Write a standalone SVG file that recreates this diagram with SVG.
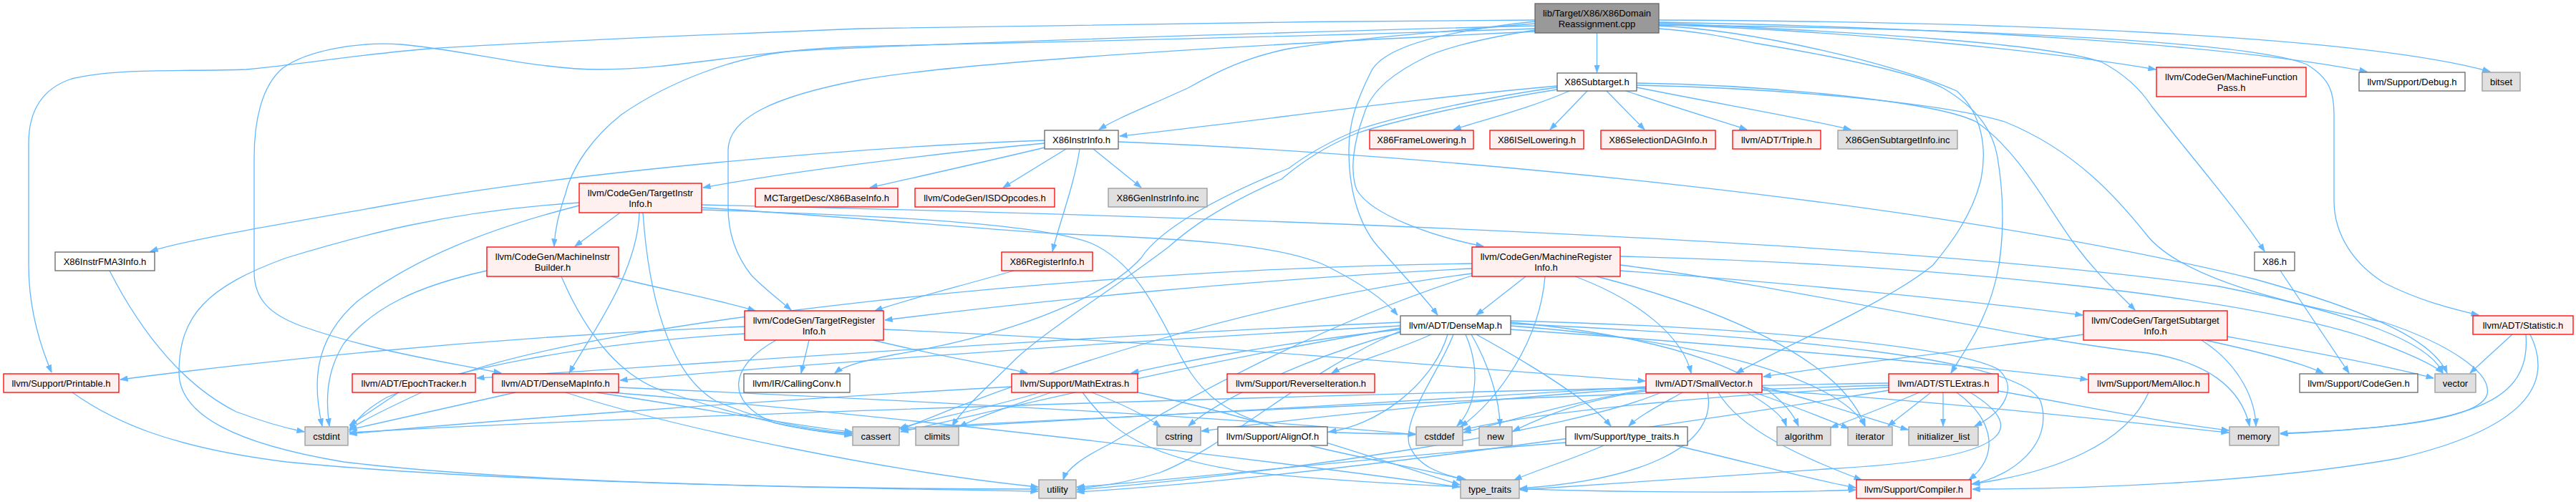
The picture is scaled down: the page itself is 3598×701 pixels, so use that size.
<svg xmlns="http://www.w3.org/2000/svg" width="3598" height="701" viewBox="0 0 3598 701">
<defs>
<marker id="a" markerUnits="userSpaceOnUse" markerWidth="11" markerHeight="8" refX="10.5" refY="4" orient="auto">
<path d="M0,0 L11,4 L0,8 z" fill="#63b8ff" stroke="#63b8ff" stroke-width="0.5"/>
</marker>
<style>
.e path{fill:none;stroke:#63b8ff;stroke-width:1.3;marker-end:url(#a)}
.node rect{stroke-width:1.3}
.r rect{fill:#fff0f0;stroke:#ff0000}
.w rect{fill:#ffffff;stroke:#666666}
.g rect{fill:#e0e0e0;stroke:#999999}
.root rect{fill:#999999;stroke:#666666}
text{font-family:"Liberation Sans",Arial,Helvetica,sans-serif;font-size:13px;fill:#000000;text-anchor:middle}
</style>
</defs>
<rect x="0" y="0" width="3598" height="701" fill="#ffffff"/>
<g id="edges" class="e">
<path d="M2144,28 C1800,30 1300,36 1200,40 C1000,48 750,58 600,68 C500,76 420,90 344,97 C250,100 160,95 100,110 C55,125 40,160 40,200 L40,370 C40,430 55,480 72,520"/>
<path d="M2144,36 C1800,45 1300,60 1100,72 C1030,80 940,110 868,160 C830,190 800,230 790,270 C780,300 775,320 774,344"/>
<path d="M2144,40 C1700,55 1300,62 1200,65 C1050,70 950,97 837,97 C750,97 650,70 560,62 C500,58 430,70 395,95 C365,120 355,170 355,220 L355,380 C355,420 380,440 420,455 C520,490 620,505 700,521"/>
<path d="M2144,44 C1800,60 1350,85 1200,112 C1080,135 1017,165 1017,210 L1017,290 C1017,330 1030,360 1050,385 C1070,405 1090,420 1105,433"/>
<path d="M2144,33 C2000,45 1880,55 1800,68 C1740,80 1700,100 1659,123 C1600,150 1560,165 1535,181"/>
<path d="M2230.5,46 L2230.5,101"/>
<path d="M2144,30 C2000,45 1930,70 1915,100 C1895,140 1884,170 1884,210 C1884,270 1900,320 1930,350 C1960,385 1990,415 2008,440"/>
<path d="M2144,42 C2060,55 2010,70 1991,80 C1950,100 1915,125 1905,160 C1890,200 1885,240 1895,265 C1915,300 2000,330 2072,344"/>
<path d="M2317,40 C2380,45 2400,50 2450,60 C2600,85 2680,105 2714,123 C2760,150 2783,180 2790,220 C2800,280 2798,330 2792,370 C2780,440 2750,480 2725,521"/>
<path d="M2317,36 C2450,42 2650,90 2733,127 C2770,160 2775,210 2767,250 C2755,300 2725,340 2700,370 C2640,420 2500,480 2425,521"/>
<path d="M2317,34 C2600,45 2850,70 3011,97"/>
<path d="M2317,31 C2700,38 3100,60 3306,100"/>
<path d="M2317,28 C2800,30 3300,50 3478,100"/>
<path d="M2317,32 C2600,45 2860,60 2936,87 C2970,105 2990,125 3005,148 C3070,230 3130,300 3163,351"/>
<path d="M2317,35 C2800,40 3150,60 3222,90 C3255,110 3260,130 3260,160 L3260,280 C3260,330 3290,370 3330,395 C3380,420 3420,430 3462,440"/>
<path d="M2192,127 C2140,150 2070,168 2030,181"/>
<path d="M2217,127 L2165,181"/>
<path d="M2244,127 L2297,181"/>
<path d="M2271,127 C2340,150 2400,168 2440,181"/>
<path d="M2286,122 C2400,145 2520,165 2585,181"/>
<path d="M2175,120 C1950,140 1750,170 1564,190"/>
<path d="M2286,116 C2450,118 2700,140 2760,170 C2820,210 2860,290 2897,340 C2930,385 2960,410 2982,433"/>
<path d="M2175,122 C2080,135 1960,160 1900,180 C1850,200 1820,220 1800,235 C1700,275 1620,320 1594,360 C1540,420 1400,470 1250,495 C1210,503 1180,510 1166,521"/>
<path d="M2175,125 C2080,140 1960,165 1895,186 C1850,205 1820,225 1790,250 C1700,290 1660,320 1632,345 C1560,400 1470,455 1420,500 C1380,540 1345,570 1330,595"/>
<path d="M2286,119 C2450,122 2700,140 2800,170 C2900,210 2960,280 3000,330 C3050,390 3200,425 3330,450 C3420,480 3480,520 3474,550 C3465,590 3300,600 3185,606"/>
<path d="M1459,206 C1380,225 1290,245 1215,262"/>
<path d="M1489,208 L1401,262"/>
<path d="M1527,208 L1594,262"/>
<path d="M1508,208 C1500,260 1480,310 1470,351"/>
<path d="M1459,200 C1300,215 1100,240 982,262"/>
<path d="M1459,196 C1200,205 800,240 550,285 C380,315 260,335 210,351"/>
<path d="M1562,198 C2000,215 2700,280 3150,390 C3330,440 3400,480 3418,521"/>
<path d="M866,297 L803,344"/>
<path d="M980,290 C1150,300 1350,318 1470,326 C1650,333 1780,340 1850,370 C1900,395 1935,420 1952,440"/>
<path d="M893,297 C890,380 830,460 795,521"/>
<path d="M898,297 C905,400 930,520 1000,560 C1070,590 1130,600 1190,605"/>
<path d="M980,293 C1200,300 1450,310 1525,340 C1580,365 1610,420 1640,480 C1670,540 1700,580 1800,600 C1880,606 1940,606 1977,606"/>
<path d="M809,287 C680,320 580,360 500,420 C430,480 440,550 450,595"/>
<path d="M809,283 C620,295 500,330 400,360 C290,400 250,440 250,520 C250,580 330,620 480,645 C750,678 1250,683 1450,683"/>
<path d="M980,286 C1600,300 2600,330 3100,400 C3300,440 3395,480 3412,521"/>
<path d="M1416,378 C1340,400 1260,420 1222,434"/>
<path d="M854,386 C930,405 1010,420 1055,434"/>
<path d="M784,386 C820,470 870,530 933,548 C1030,580 1120,602 1190,608"/>
<path d="M680,378 C580,400 520,430 480,480 C455,520 455,560 460,595"/>
<path d="M2056,375 C1750,390 1450,420 1236,447"/>
<path d="M2131,386 L2062,440"/>
<path d="M2200,386 C2290,420 2350,470 2362,521"/>
<path d="M2263,378 C2500,395 2750,420 2909,440"/>
<path d="M2158,386 C2150,480 2090,560 2040,596"/>
<path d="M2056,382 C1750,420 1450,520 1258,600"/>
<path d="M2056,368 C1500,375 850,450 650,520 C550,565 500,590 488,600"/>
<path d="M2230,386 C2400,430 2570,500 2605,595"/>
<path d="M2263,370 C2500,400 2800,470 3000,493 C3080,505 3130,540 3142,595"/>
<path d="M2056,385 C1850,450 1650,560 1550,620 C1510,640 1490,655 1485,670"/>
<path d="M2263,358 C2750,370 3150,420 3300,470 C3370,495 3400,510 3412,521"/>
<path d="M3185,378 L3281,521"/>
<path d="M1040,456 C700,470 400,500 168,530"/>
<path d="M1130,475 L1119,521"/>
<path d="M1220,475 C1300,495 1390,510 1435,521"/>
<path d="M1234,460 C1700,480 2100,520 2298,532"/>
<path d="M1084,475 C1020,510 1010,560 1080,590 C1120,600 1160,604 1190,606"/>
<path d="M1040,466 C800,480 620,520 540,555 C505,575 495,590 488,603"/>
<path d="M1956,450 C1500,470 950,510 666,528"/>
<path d="M1956,455 C1500,480 1050,515 866,531"/>
<path d="M1956,460 C1780,480 1650,505 1580,521"/>
<path d="M1999,467 C1950,490 1890,505 1860,521"/>
<path d="M2022,467 C2000,540 1920,595 1856,603"/>
<path d="M2047,467 C2070,520 2060,570 2035,595"/>
<path d="M2055,467 C2080,510 2095,560 2095,595"/>
<path d="M2062,467 C2140,510 2220,560 2250,595"/>
<path d="M2030,467 C2010,520 1960,580 1968,620 C1978,650 2010,662 2048,670"/>
<path d="M1956,462 C1820,520 1720,620 1620,660 C1570,675 1530,680 1505,682"/>
<path d="M1956,458 C1700,500 1450,560 1258,603"/>
<path d="M1956,464 C1820,500 1700,560 1660,595"/>
<path d="M2110,450 C2330,470 2480,520 2512,595"/>
<path d="M2110,455 C2380,475 2570,530 2605,595"/>
<path d="M2110,448 C2400,455 2720,480 2790,515 C2820,540 2800,575 2758,595"/>
<path d="M2110,452 C2500,470 2820,500 2850,560 C2870,620 2810,665 2755,676"/>
<path d="M2110,460 C2400,480 2750,510 2916,530"/>
<path d="M2910,467 C2750,490 2560,510 2463,526"/>
<path d="M3080,475 C3150,490 3210,505 3245,521"/>
<path d="M3111,470 C3220,490 3330,510 3399,528"/>
<path d="M3075,475 C3130,510 3150,560 3151,595"/>
<path d="M3509,467 L3450,521"/>
<path d="M3528,467 C3535,560 3460,595 3185,605"/>
<path d="M3534,467 C3570,540 3520,600 3350,640 C3150,675 2900,683 2755,683"/>
<path d="M101,548 C160,590 240,625 400,645 C700,675 1200,682 1450,686"/>
<path d="M557,548 L488,594"/>
<path d="M720,548 C620,570 530,590 488,600"/>
<path d="M833,548 C980,570 1110,595 1190,603"/>
<path d="M864,541 C1300,560 1750,585 1977,607"/>
<path d="M853,548 C1250,580 1750,640 2039,680"/>
<path d="M790,548 C950,600 1250,660 1450,680"/>
<path d="M1413,540 C1050,560 650,590 488,606"/>
<path d="M1453,548 C1380,570 1300,585 1256,598"/>
<path d="M1468,548 C1420,565 1370,580 1340,596"/>
<path d="M1525,548 C1570,565 1600,580 1621,596"/>
<path d="M1512,548 C1550,600 1600,640 1750,660 C2050,690 2450,690 2592,684"/>
<path d="M1589,548 C1750,580 1950,650 2039,677"/>
<path d="M2400,548 C2430,600 2520,640 2600,670"/>
<path d="M2350,548 C2320,565 2290,580 2275,595"/>
<path d="M2440,548 C2470,565 2490,580 2495,595"/>
<path d="M2299,540 C2000,560 1500,585 1258,600"/>
<path d="M2299,544 C2200,560 2100,590 2044,604"/>
<path d="M2299,542 C2100,555 1850,580 1678,602"/>
<path d="M2461,540 C2540,560 2610,585 2665,600"/>
<path d="M2450,548 C2500,565 2550,585 2582,598"/>
<path d="M2461,545 C2720,560 2970,590 3113,604"/>
<path d="M2299,546 C2200,560 2150,585 2113,602"/>
<path d="M2385,548 C2400,620 2300,670 2123,682"/>
<path d="M2320,548 C2200,600 1800,660 1504,684"/>
<path d="M2681,548 C2640,565 2590,585 2557,597"/>
<path d="M2697,548 L2637,595"/>
<path d="M2714,548 L2714,595"/>
<path d="M2733,548 C2790,590 2790,640 2750,670"/>
<path d="M2791,546 C2900,565 3020,590 3113,601"/>
<path d="M2638,538 C2200,550 1600,580 1258,598"/>
<path d="M2638,541 C2400,550 2150,575 2044,600"/>
<path d="M2638,535 C2000,545 900,580 488,604"/>
<path d="M2752,548 C2820,590 2840,640 2550,655 C2350,668 2200,680 2123,684"/>
<path d="M2638,545 C2300,600 1800,670 1504,687"/>
<path d="M3001,548 C2970,620 2870,660 2754,676"/>
<path d="M1829,622 C1900,640 1990,655 2045,670"/>
<path d="M2240,622 C2200,640 2150,655 2115,670"/>
<path d="M2187,618 C1900,640 1650,670 1504,680"/>
<path d="M2340,622 C2440,645 2530,670 2592,681"/>
<path d="M153,378 C200,470 260,540 330,575 C370,590 400,598 425,603"/>
</g>
<g id="n_root" class="node root"><rect x="2144" y="5" width="173" height="41"/><text x="2230.5" y="22.5">lib/Target/X86/X86Domain</text><text x="2230.5" y="37.5">Reassignment.cpp</text></g>
<g id="n_sub" class="node w"><rect x="2175" y="102" width="111" height="25"/><text x="2230.5" y="119">X86Subtarget.h</text></g>
<g id="n_mfp" class="node r"><rect x="3012" y="94" width="209" height="41"/><text x="3116.5" y="111.5">llvm/CodeGen/MachineFunction</text><text x="3116.5" y="126.5">Pass.h</text></g>
<g id="n_dbg" class="node w"><rect x="3295" y="101" width="148" height="26"/><text x="3369" y="118.5">llvm/Support/Debug.h</text></g>
<g id="n_bitset" class="node g"><rect x="3467" y="101" width="53" height="26"/><text x="3493.5" y="118.5">bitset</text></g>
<g id="n_frame" class="node r"><rect x="1913" y="182" width="145" height="26"/><text x="1985.5" y="199.5">X86FrameLowering.h</text></g>
<g id="n_isel" class="node r"><rect x="2081" y="182" width="131" height="26"/><text x="2146.5" y="199.5">X86ISelLowering.h</text></g>
<g id="n_sdag" class="node r"><rect x="2236" y="182" width="160" height="26"/><text x="2316" y="199.5">X86SelectionDAGInfo.h</text></g>
<g id="n_triple" class="node r"><rect x="2420" y="182" width="123" height="26"/><text x="2481.5" y="199.5">llvm/ADT/Triple.h</text></g>
<g id="n_gensub" class="node g"><rect x="2567" y="182" width="167" height="26"/><text x="2650.5" y="199.5">X86GenSubtargetInfo.inc</text></g>
<g id="n_instr" class="node w"><rect x="1459" y="182" width="103" height="26"/><text x="1510.5" y="199.5">X86InstrInfo.h</text></g>
<g id="n_tii" class="node r"><rect x="809" y="256" width="171" height="41"/><text x="894.5" y="273.5">llvm/CodeGen/TargetInstr</text><text x="894.5" y="288.5">Info.h</text></g>
<g id="n_base" class="node r"><rect x="1055" y="263" width="199" height="26"/><text x="1154.5" y="280.5">MCTargetDesc/X86BaseInfo.h</text></g>
<g id="n_isd" class="node r"><rect x="1278" y="263" width="195" height="26"/><text x="1375.5" y="280.5">llvm/CodeGen/ISDOpcodes.h</text></g>
<g id="n_geninstr" class="node g"><rect x="1548" y="263" width="138" height="26"/><text x="1617" y="280.5">X86GenInstrInfo.inc</text></g>
<g id="n_fma" class="node w"><rect x="77" y="352" width="139" height="26"/><text x="146.5" y="369.5">X86InstrFMA3Info.h</text></g>
<g id="n_mib" class="node r"><rect x="680" y="345" width="184" height="41"/><text x="772" y="362.5">llvm/CodeGen/MachineInstr</text><text x="772" y="377.5">Builder.h</text></g>
<g id="n_x86reg" class="node r"><rect x="1399" y="352" width="127" height="26"/><text x="1462.5" y="369.5">X86RegisterInfo.h</text></g>
<g id="n_mri" class="node r"><rect x="2056" y="345" width="207" height="41"/><text x="2159.5" y="362.5">llvm/CodeGen/MachineRegister</text><text x="2159.5" y="377.5">Info.h</text></g>
<g id="n_x86h" class="node w"><rect x="3149" y="352" width="56" height="26"/><text x="3177" y="369.5">X86.h</text></g>
<g id="n_tri" class="node r"><rect x="1040" y="434" width="194" height="41"/><text x="1137" y="451.5">llvm/CodeGen/TargetRegister</text><text x="1137" y="466.5">Info.h</text></g>
<g id="n_dm" class="node w"><rect x="1956" y="441" width="154" height="26"/><text x="2033" y="458.5">llvm/ADT/DenseMap.h</text></g>
<g id="n_tsi" class="node r"><rect x="2910" y="434" width="201" height="41"/><text x="3010.5" y="451.5">llvm/CodeGen/TargetSubtarget</text><text x="3010.5" y="466.5">Info.h</text></g>
<g id="n_stat" class="node r"><rect x="3454" y="441" width="140" height="26"/><text x="3524" y="458.5">llvm/ADT/Statistic.h</text></g>
<g id="n_print" class="node r"><rect x="5" y="522" width="161" height="26"/><text x="85.5" y="539.5">llvm/Support/Printable.h</text></g>
<g id="n_epoch" class="node r"><rect x="492" y="522" width="172" height="26"/><text x="578" y="539.5">llvm/ADT/EpochTracker.h</text></g>
<g id="n_dmi" class="node r"><rect x="688" y="522" width="176" height="26"/><text x="776" y="539.5">llvm/ADT/DenseMapInfo.h</text></g>
<g id="n_cc" class="node w"><rect x="1039" y="522" width="148" height="26"/><text x="1113" y="539.5">llvm/IR/CallingConv.h</text></g>
<g id="n_math" class="node r"><rect x="1413" y="522" width="176" height="26"/><text x="1501" y="539.5">llvm/Support/MathExtras.h</text></g>
<g id="n_rev" class="node r"><rect x="1714" y="522" width="206" height="26"/><text x="1817" y="539.5">llvm/Support/ReverseIteration.h</text></g>
<g id="n_sv" class="node r"><rect x="2299" y="522" width="162" height="26"/><text x="2380" y="539.5">llvm/ADT/SmallVector.h</text></g>
<g id="n_stl" class="node r"><rect x="2638" y="522" width="153" height="26"/><text x="2714.5" y="539.5">llvm/ADT/STLExtras.h</text></g>
<g id="n_memalloc" class="node r"><rect x="2917" y="522" width="168" height="26"/><text x="3001" y="539.5">llvm/Support/MemAlloc.h</text></g>
<g id="n_cg" class="node w"><rect x="3212" y="522" width="165" height="26"/><text x="3294.5" y="539.5">llvm/Support/CodeGen.h</text></g>
<g id="n_vec" class="node g"><rect x="3401" y="522" width="57" height="26"/><text x="3429.5" y="539.5">vector</text></g>
<g id="n_cstdint" class="node g"><rect x="426" y="596" width="60" height="26"/><text x="456" y="613.5">cstdint</text></g>
<g id="n_cassert" class="node g"><rect x="1191" y="596" width="65" height="26"/><text x="1223.5" y="613.5">cassert</text></g>
<g id="n_climits" class="node g"><rect x="1279" y="596" width="60" height="26"/><text x="1309" y="613.5">climits</text></g>
<g id="n_cstring" class="node g"><rect x="1616" y="596" width="61" height="26"/><text x="1646.5" y="613.5">cstring</text></g>
<g id="n_align" class="node w"><rect x="1701" y="596" width="153" height="26"/><text x="1777.5" y="613.5">llvm/Support/AlignOf.h</text></g>
<g id="n_cstddef" class="node g"><rect x="1978" y="596" width="65" height="26"/><text x="2010.5" y="613.5">cstddef</text></g>
<g id="n_new" class="node g"><rect x="2066" y="596" width="46" height="26"/><text x="2089" y="613.5">new</text></g>
<g id="n_tth" class="node w"><rect x="2187" y="596" width="170" height="26"/><text x="2272" y="613.5">llvm/Support/type_traits.h</text></g>
<g id="n_algorithm" class="node g"><rect x="2482" y="596" width="75" height="26"/><text x="2519.5" y="613.5">algorithm</text></g>
<g id="n_iterator" class="node g"><rect x="2581" y="596" width="62" height="26"/><text x="2612" y="613.5">iterator</text></g>
<g id="n_initlist" class="node g"><rect x="2666" y="596" width="97" height="26"/><text x="2714.5" y="613.5">initializer_list</text></g>
<g id="n_memory" class="node g"><rect x="3114" y="596" width="69" height="26"/><text x="3148.5" y="613.5">memory</text></g>
<g id="n_utility" class="node g"><rect x="1451" y="670" width="52" height="26"/><text x="1477" y="687.5">utility</text></g>
<g id="n_typetraits" class="node g"><rect x="2040" y="670" width="82" height="26"/><text x="2081" y="687.5">type_traits</text></g>
<g id="n_compiler" class="node r"><rect x="2593" y="670" width="160" height="26"/><text x="2673" y="687.5">llvm/Support/Compiler.h</text></g>
</svg>
